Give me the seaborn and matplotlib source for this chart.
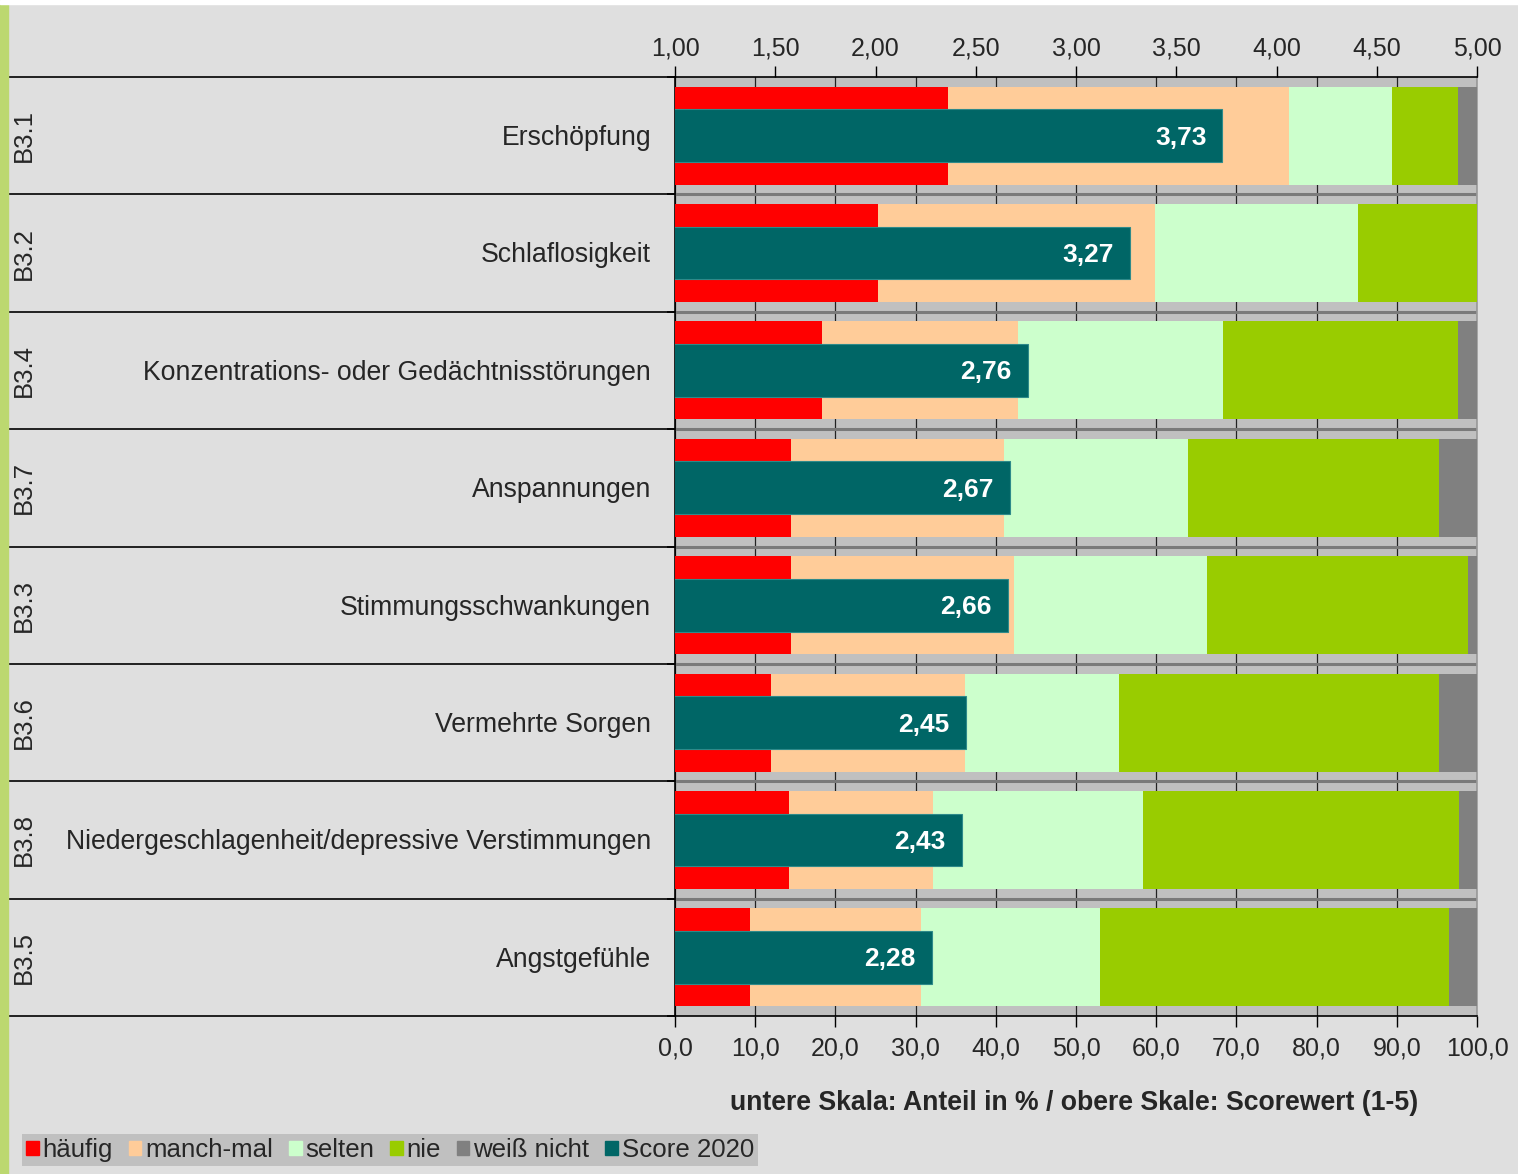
import numpy as np
import pandas as pd
import matplotlib.pyplot as plt
import matplotlib.transforms as mtransforms
from matplotlib.patches import Patch, Rectangle
from matplotlib.ticker import FuncFormatter, FixedLocator
import seaborn as sns

# Data
codes = ['B3.1', 'B3.2', 'B3.4', 'B3.7', 'B3.3', 'B3.6', 'B3.8', 'B3.5']
categories = ['Erschöpfung', 'Schlaflosigkeit', 'Konzentrations- oder Gedächtnisstörungen',
              'Anspannungen', 'Stimmungsschwankungen', 'Vermehrte Sorgen',
              'Niedergeschlagenheit/depressive Verstimmungen', 'Angstgefühle']
haeufig = [34.0, 25.3, 18.3, 14.5, 14.5, 12.0, 14.2, 9.4]
manchmal = [42.6, 34.6, 24.5, 26.5, 27.8, 24.2, 18.0, 21.3]
selten = [12.8, 25.3, 25.5, 23.0, 24.0, 19.2, 26.2, 22.3]
nie = [8.2, 14.8, 29.3, 31.3, 32.6, 39.9, 39.4, 43.5]
weiss_nicht = [2.4, 0.0, 2.4, 4.7, 1.1, 4.7, 2.2, 3.5]
score = [3.73, 3.27, 2.76, 2.67, 2.66, 2.45, 2.43, 2.28]

series_names = ['häufig', 'manch-mal', 'selten', 'nie', 'weiß nicht']
series_colors = ['#FF0000', '#FFCC99', '#CCFFCC', '#99CC00', '#808080']
score_color = '#006666'

sns.set_style('white')
plt.rcParams['font.family'] = ['Liberation Sans', 'DejaVu Sans']

W, H = 1518, 1174
fig = plt.figure(figsize=(W / 100, H / 100), dpi=100, facecolor='#DFDFDF')

# decorative strips
fig.patches.append(Rectangle((0, 0), 8 / W, 1, transform=fig.transFigure,
                             color='#BCD870', zorder=0))
fig.patches.append(Rectangle((0, 1 - 4 / H), 1, 4 / H, transform=fig.transFigure,
                             color='white', zorder=0))

x0, x1, y0, y1 = 675, 1477, 77, 1016
ax = fig.add_axes([x0 / W, 1 - y1 / H, (x1 - x0) / W, (y1 - y0) / H])
ax.set_facecolor('#C0C0C0')

df = pd.DataFrame({'Kategorie': categories, 'häufig': haeufig, 'manch-mal': manchmal,
                   'selten': selten, 'nie': nie, 'weiß nicht': weiss_nicht, 'Score': score})
cum = df[series_names].cumsum(axis=1)

# stacked bars: draw cumulative sums from largest to smallest
for name, col in reversed(list(zip(series_names, series_colors))):
    sns.barplot(x=cum[name], y=df['Kategorie'], color=col, orient='h', width=0.835,
                saturation=1, linewidth=0, ax=ax, zorder=3)

ax.set_xlim(0, 100)
ax.set_ylim(len(categories) - 0.5, -0.5)
ax.grid(axis='x', color='#222222', linewidth=0.9)
ax.set_axisbelow(True)
for yb in np.arange(1, len(categories)) - 0.5:
    ax.axhline(yb, color='#7A7A7A', linewidth=2.2, zorder=2)

ax.xaxis.set_major_locator(FixedLocator(np.arange(0, 101, 10)))
ax.xaxis.set_major_formatter(FuncFormatter(lambda v, p: f'{v:.1f}'.replace('.', ',')))
ax.tick_params(axis='x', direction='out', length=8, width=1, color='black',
               labelsize=18, pad=7, bottom=True)
ax.set_xlabel('untere Skala: Anteil in % / obere Skale: Scorewert (1-5)',
              fontsize=19.2, fontweight='bold', labelpad=21, loc='right')
ax.xaxis.label.set_position((1.0 - 0.073, 0))
ax.set_ylabel('')
ax.set_yticks(np.arange(len(categories) + 1) - 0.5, minor=True)
ax.tick_params(axis='y', which='major', length=0, labelleft=False)
ax.tick_params(axis='y', which='minor', direction='out', length=6, width=1.2,
               color='black', left=True)

for side, c in [('left', 'black'), ('top', 'black'), ('bottom', 'black'), ('right', '#9A9A9A')]:
    ax.spines[side].set_color(c)
    ax.spines[side].set_linewidth(1.2)

# score bars on the top scale
ax2 = ax.twiny()
sns.barplot(x=df['Score'], y=df['Kategorie'], color=score_color, orient='h', width=0.45,
            saturation=1, linewidth=0.8, edgecolor='#2E8A8A', ax=ax2, zorder=4)
ax2.set_xlim(1, 5)
ax2.set_ylim(len(categories) - 0.5, -0.5)
ax2.set_xlabel('')
ax2.set_ylabel('')
ax2.xaxis.set_major_locator(FixedLocator(np.arange(1, 5.01, 0.5)))
ax2.xaxis.set_major_formatter(FuncFormatter(lambda v, p: f'{v:.2f}'.replace('.', ',')))
ax2.tick_params(axis='x', direction='out', length=8, width=1, color='black',
                labelsize=18, pad=4)
for side in ax2.spines:
    ax2.spines[side].set_visible(False)

for i, s in enumerate(score):
    ax2.annotate(f'{s:.2f}'.replace('.', ','), xy=(s, i), xytext=(-16, -2),
                 textcoords='offset pixels', ha='right', va='center', color='white',
                 fontsize=19, fontweight='bold', zorder=6)

# left label area: category names, codes and row lines
trans = mtransforms.blended_transform_factory(ax.transAxes, ax.transData)
left_edge = (8 - x0) / (x1 - x0)
for i, (code, cat) in enumerate(zip(codes, categories)):
    ax.text(-24 / (x1 - x0), i + 0.02, cat, transform=trans, ha='right', va='center',
            fontsize=19.2)
    ax.text((24 - x0) / (x1 - x0), i, code, transform=trans, ha='center', va='center',
            rotation=90, fontsize=18.5)
for yb in np.arange(len(categories) + 1) - 0.5:
    ax.plot([left_edge, 0], [yb, yb], transform=trans, color='black', linewidth=1.2,
            clip_on=False)

handles = [Patch(color=c, label=n) for n, c in zip(series_names, series_colors)]
handles.append(Patch(color=score_color, label='Score 2020'))
fig.legend(handles=handles, loc='lower left', bbox_to_anchor=(22 / W, 8 / H), ncol=6,
           frameon=True, facecolor='#C0C0C0', edgecolor='none', fancybox=False,
           fontsize=18.6, handlelength=0.5, handleheight=0.5, handletextpad=0.15,
           columnspacing=0.6, borderpad=0.15, borderaxespad=0, framealpha=1)

fig.savefig('out.png', dpi=100, facecolor=fig.get_facecolor())
